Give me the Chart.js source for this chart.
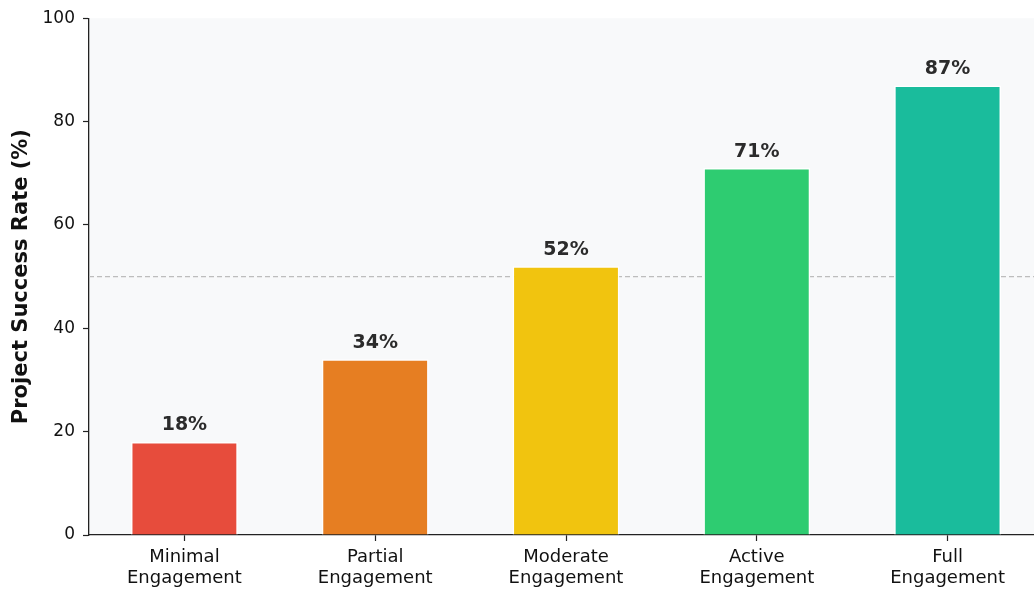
<!DOCTYPE html>
<html>
<head>
<meta charset="utf-8">
<script src="https://cdn.jsdelivr.net/npm/chart.js@4.4.1/dist/chart.umd.min.js"></script>
<style>
  html, body { margin: 0; padding: 0; background: #fff; overflow: hidden; }
  /* plot runs slightly past the right window edge, as in the reference */
  #wrap { width: 1043px; height: 589px; }
</style>
</head>
<body>
<div id="wrap"><canvas id="chart"></canvas></div>
<script>
// Data
const categories = [
  ["Minimal", "Engagement"],
  ["Partial", "Engagement"],
  ["Moderate", "Engagement"],
  ["Active", "Engagement"],
  ["Full", "Engagement"]
];
const successRates = [18, 34, 52, 71, 87];
const barColors = ["#e74c3c", "#e67e22", "#f1c40f", "#2ecc71", "#1abc9c"];
const referenceLine = 50;

const FONT = "'DejaVu Sans', sans-serif";

// light grey plot background, drawn before the axes
const backdrop = {
  id: "backdrop",
  beforeDraw(chart) {
    const { ctx, chartArea } = chart;
    ctx.save();
    ctx.fillStyle = "#f8f9fa";
    ctx.fillRect(chartArea.left, chartArea.top, chartArea.right - chartArea.left, chartArea.bottom - chartArea.top);
    ctx.restore();
  },
  // dashed 50% line behind the bars
  beforeDatasetsDraw(chart) {
    const { ctx, chartArea, scales } = chart;
    const y = scales.y.getPixelForValue(referenceLine);
    ctx.save();
    ctx.strokeStyle = "#bdbdbd";
    ctx.lineWidth = 1.3;
    ctx.setLineDash([5, 3]);
    ctx.beginPath();
    ctx.moveTo(chartArea.left, y);
    ctx.lineTo(chartArea.right, y);
    ctx.stroke();
    ctx.restore();
  }
};

// percentage labels above the bars
const valueLabels = {
  id: "valueLabels",
  afterDatasetsDraw(chart) {
    const { ctx } = chart;
    const meta = chart.getDatasetMeta(0);
    ctx.save();
    ctx.font = "bold 19px " + FONT;
    ctx.fillStyle = "#2b2b2b";
    ctx.textAlign = "center";
    ctx.textBaseline = "bottom";
    meta.data.forEach((bar, i) => {
      ctx.fillText(successRates[i] + "%", bar.x, bar.y - 7);
    });
    ctx.restore();
  }
};

new Chart(document.getElementById("chart"), {
  type: "bar",
  data: {
    labels: categories,
    datasets: [{
      data: successRates,
      backgroundColor: barColors,
      borderColor: "#ffffff",
      borderWidth: 1.5,
      barPercentage: 0.56,
      categoryPercentage: 1
    }]
  },
  options: {
    responsive: true,
    maintainAspectRatio: false,
    animation: false,
    layout: { padding: { top: 17, right: 0, bottom: 0, left: 0 } },
    plugins: {
      legend: { display: false },
      tooltip: { enabled: false }
    },
    scales: {
      x: {
        grid: { drawOnChartArea: false, offset: false, color: "#222", tickLength: 6, tickWidth: 1.2 },
        border: { color: "#222", width: 1.3 },
        ticks: { color: "#111", font: { family: FONT, size: 18, lineHeight: 1.15 }, padding: 6, maxRotation: 0 },
        afterFit(scale) { scale.height = 54; }
      },
      y: {
        min: 0,
        max: 100,
        grid: { drawOnChartArea: false, color: "#222", tickLength: 6, tickWidth: 1.2 },
        border: { color: "#222", width: 1.3 },
        ticks: { stepSize: 20, color: "#111", font: { family: FONT, size: 17 }, padding: 8 },
        title: {
          display: true,
          text: "Project Success Rate (%)",
          color: "#111",
          font: { family: FONT, size: 21, weight: "bold" },
          padding: { top: 9, bottom: 4 }
        },
        afterFit(scale) { scale.width = 89; }
      }
    }
  },
  plugins: [backdrop, valueLabels]
});
</script>
</body>
</html>
